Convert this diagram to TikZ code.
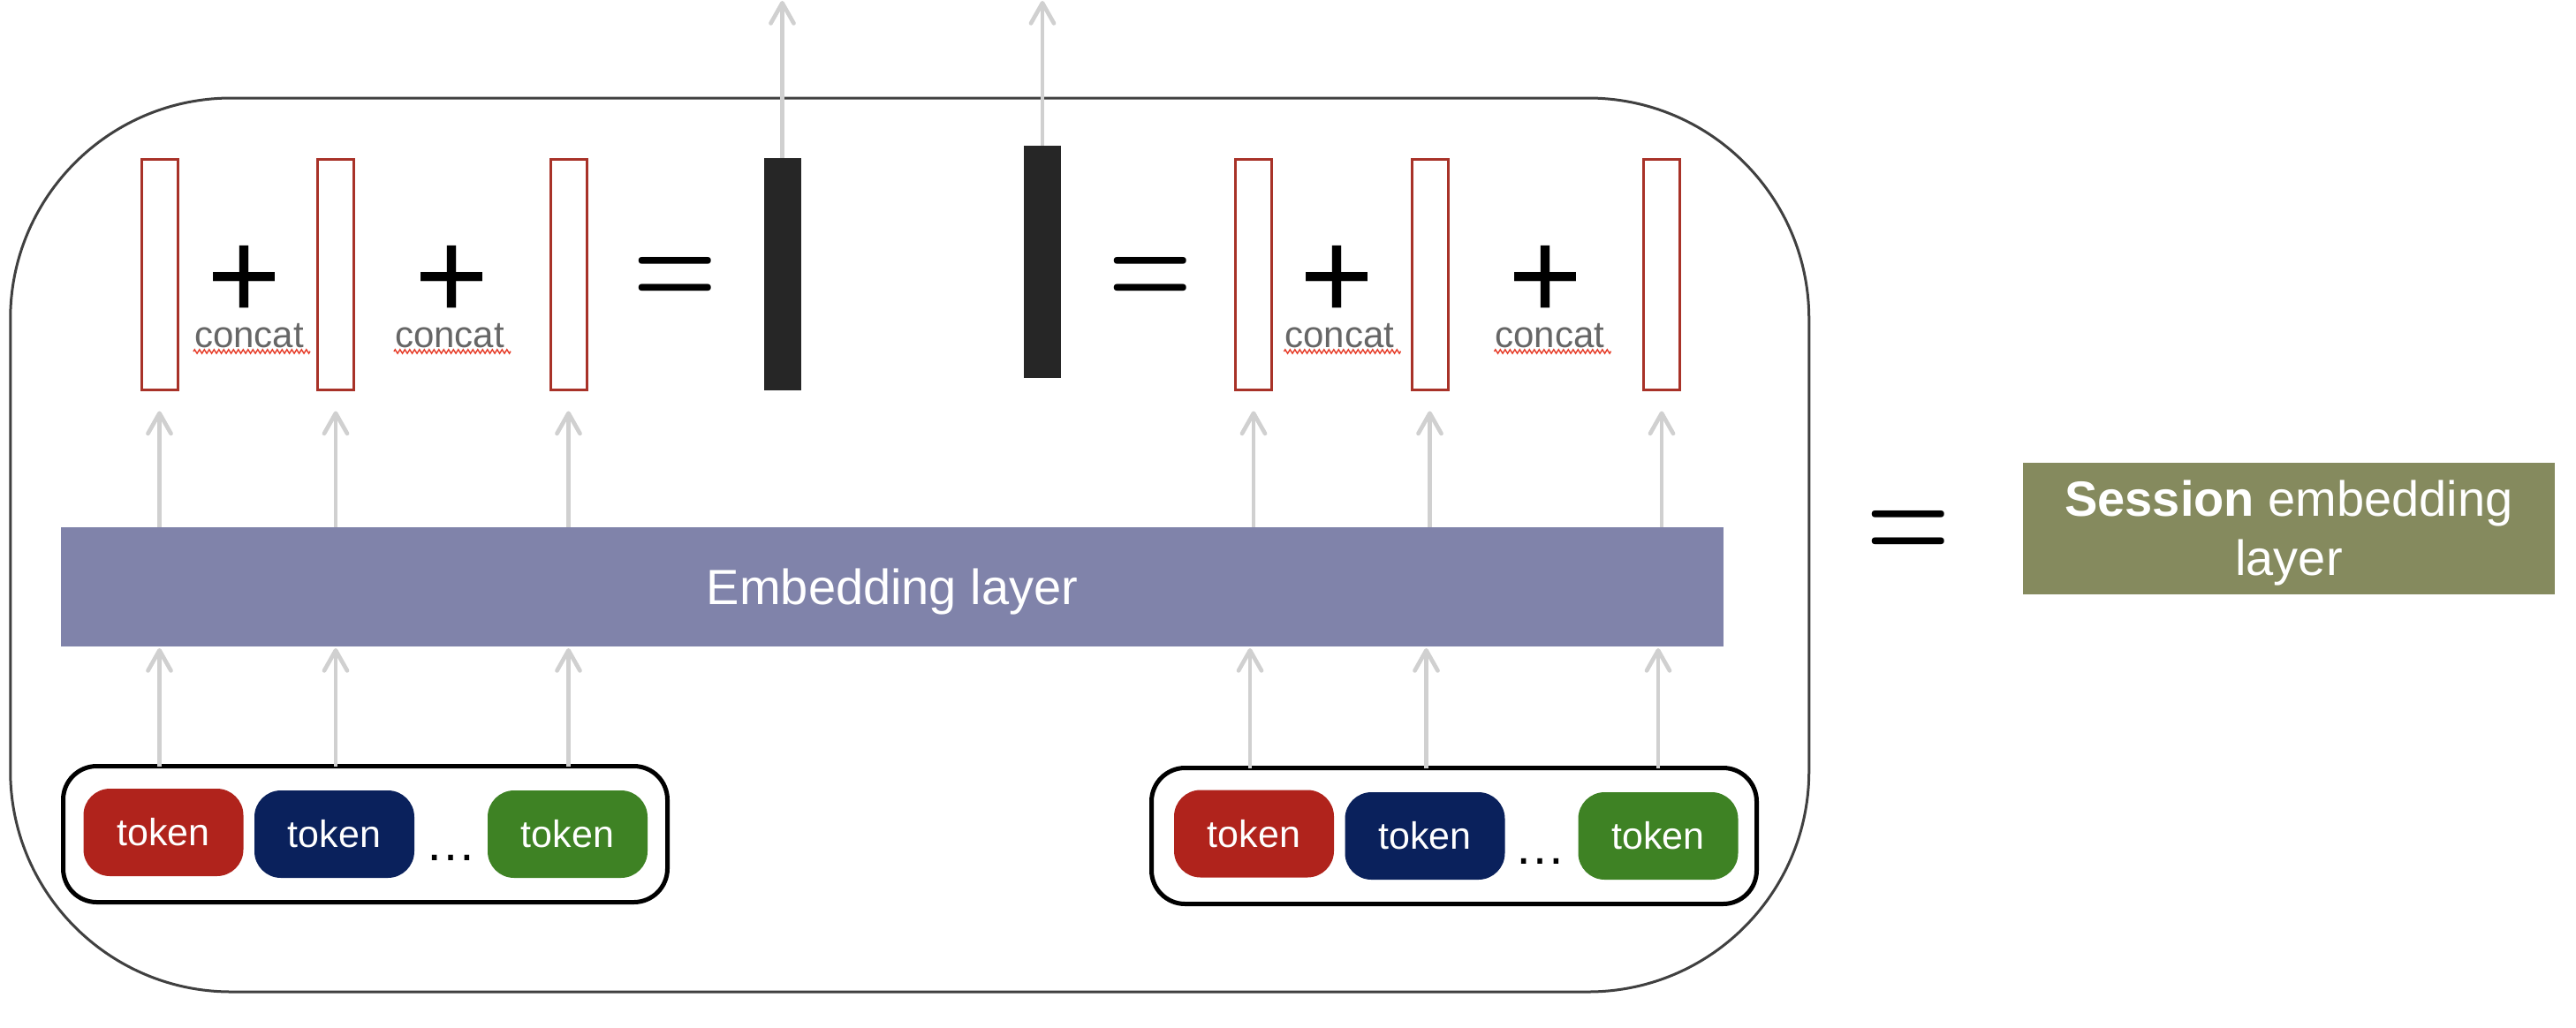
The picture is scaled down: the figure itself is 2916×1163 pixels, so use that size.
\documentclass[tikz,border=0pt]{standalone}
\usepackage{fontspec}
\setmainfont{Liberation Sans}
\newfontfamily\lmfont{Latin Modern Roman}
\usepackage{graphicx}
\usetikzlibrary{arrows.meta,calc,decorations.pathmorphing}
\definecolor{framegray}{HTML}{404040}
\definecolor{vecred}{HTML}{A83228}
\definecolor{barblack}{HTML}{262626}
\definecolor{arrgray}{HTML}{D0D0D0}
\definecolor{embblue}{HTML}{8083AA}
\definecolor{tokred}{HTML}{B0231C}
\definecolor{toknavy}{HTML}{0A215C}
\definecolor{tokgreen}{HTML}{3E8224}
\definecolor{sessgreen}{HTML}{858A5E}
\definecolor{concatgray}{HTML}{666666}
\definecolor{squigred}{HTML}{E63C28}
\begin{document}
\begin{tikzpicture}[x=1pt, y=-1pt,
 framebox/.style={draw=framegray, line width=3pt, rounded corners=250pt, inner sep=0pt, outer sep=0pt, minimum width=2036pt, minimum height=1012pt},
 vecbox/.style={draw=vecred, line width=3pt, fill=white, inner sep=0pt, outer sep=0pt, minimum width=41pt, minimum height=261pt},
 barbox/.style={fill=barblack, inner sep=0pt, outer sep=0pt, minimum width=42pt, minimum height=263pt},
 oplabel/.style={inner sep=0pt, outer sep=0pt, anchor=base, font=\fontsize{144}{150}\selectfont},
 eqlabel/.style={inner sep=0pt, outer sep=0pt, anchor=base, font=\lmfont\bfseries\fontsize{140}{140}\selectfont},
 catlabel/.style={inner sep=0pt, anchor=base, text=concatgray, font=\fontsize{42}{50}\selectfont},
 squig/.style={draw=squigred, line width=1.4pt, decorate, decoration={zigzag, segment length=5.5pt, amplitude=2.2pt}},
 layerbox/.style={fill=embblue, inner sep=0pt, outer sep=0pt, minimum width=1882pt, minimum height=135pt, text=white, font=\fontsize{56}{67}\selectfont, text depth=0pt},
 groupbox/.style={draw=black, line width=5pt, rounded corners=38pt, inner sep=0pt, outer sep=0pt, minimum width=684pt, minimum height=154pt},
 tokbox/.style={rounded corners=30pt, inner sep=0pt, outer sep=0pt, minimum width=181pt, minimum height=99pt, text=white, font=\fontsize{43}{50}\selectfont},
 dotlabel/.style={inner sep=0pt, anchor=base, font=\fontsize{58}{60}\selectfont},
 sessbox/.style={fill=sessgreen, inner sep=0pt, outer sep=0pt, minimum width=602pt, minimum height=149pt},
 sesslabel/.style={align=center, text=white, inner sep=0pt, font=\fontsize{56}{67}\selectfont},
 arr/.style={draw=arrgray, line width=4.7pt, -{Straight Barb[length=23pt, width=26pt, round]}},
]
\useasboundingbox (0,0) rectangle (2916,1163);

% outer frame
\node[framebox] (frame) at (1029.75,617) {};

% vectors (red outlines)
\node[vecbox] (v1) at (180.5,311) {};
\node[vecbox] (v2) at (380,311) {};
\node[vecbox] (v3) at (643.5,311) {};
\node[vecbox] (v4) at (1419,311) {};
\node[vecbox] (v5) at (1618.5,311) {};
\node[vecbox] (v6) at (1881,311) {};

% black result vectors
\node[barbox] (b1) at (885.5,310.5) {};
\node[barbox] (b2) at (1180,296) {};

% operators
\node[oplabel] (p1) at (277,361.8) {+};
\node[oplabel] (p2) at (512,361.8) {+};
\node[oplabel] (p3) at (1514,361.8) {+};
\node[oplabel] (p4) at (1750,361.8) {+};
\node[eqlabel] (e1) at (764.5,345.5) {\scalebox{0.78}[1]{=}};
\node[eqlabel] (e2) at (1302.5,345.5) {\scalebox{0.78}[1]{=}};
\node[eqlabel] (e3) at (2160.5,632) {\scalebox{0.78}[1]{=}};

% concat labels
\node[catlabel] (c1) at (282,393) {concat};
\node[catlabel] (c2) at (509,393) {concat};
\node[catlabel] (c3) at (1516.5,393) {concat};
\node[catlabel] (c4) at (1754.5,393) {concat};
\foreach \c in {c1,c2,c3,c4}{
  \draw[squig] ($(\c.base west)+(-1,5)$) -- ($(\c.base east)+(7,5)$);
}

% embedding layer
\node[layerbox] (emb) at (1010,664.5) {Embedding layer};

% token groups
\node[groupbox] (g1) at (413.5,944.5) {};
\node[groupbox, minimum width=685pt] (g2) at (1646,946.5) {};
\node[tokbox, fill=tokred] (t1) at (185,942.5) {token};
\node[tokbox, fill=toknavy] (t2) at (378.5,944.5) {token};
\node[dotlabel] (d1) at (510.5,974) {…};
\node[tokbox, fill=tokgreen] (t3) at (642.5,944.5) {token};
\node[tokbox, fill=tokred] (t4) at (1419.5,944) {token};
\node[tokbox, fill=toknavy] (t5) at (1613,946.5) {token};
\node[dotlabel] (d2) at (1743,978) {…};
\node[tokbox, fill=tokgreen] (t6) at (1877,946.5) {token};

% session embedding layer
\node[sessbox] (sess) at (2591,598.5) {};
\node[sesslabel] (sesstxt) at ($(sess.center)+(0,5.5)$) {\textbf{Session} embedding\\layer};

% arrows: layer -> vectors
\foreach \v in {v1,v2,v3,v4,v5,v6}{
  \draw[arr] (emb.north -| \v) -- ($(\v.south)+(0,24)$);
}
% arrows: token groups -> layer
\foreach \v in {v1,v2,v3}{
  \draw[arr] (g1.north -| \v) -- ($(emb.south -| \v)+(0,2)$);
}
\foreach \v in {v4,v5,v6}{
  \draw[arr] ($(g2.north -| \v)+(-4,0)$) -- ($(emb.south -| \v)+(-4,2)$);
}
% arrows: result vectors -> upward
\coordinate (top1) at (885.5,1);
\coordinate (top2) at (1180,1);
\draw[arr] (b1.north) -- (top1);
\draw[arr] (b2.north) -- (top2);
\end{tikzpicture}
\end{document}
